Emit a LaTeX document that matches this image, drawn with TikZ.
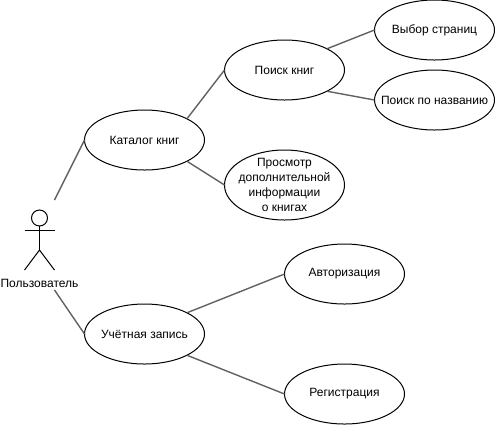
\documentclass[tikz,border=0pt]{standalone}
\usepackage{fontspec}
\setmainfont{Liberation Sans}
\usetikzlibrary{shapes.geometric}
\tikzset{
  uc/.style={draw=black,fill=white,ellipse,line width=0.75pt,inner sep=0pt,outer sep=0pt,minimum width=90pt,minimum height=45pt,
    label={[font=\fontsize{9}{11.25}\selectfont,align=center,inner sep=0pt]center:#1}},
  link/.style={draw=black!62,line width=1.05pt},
  stick/.style={draw=black,line width=0.75pt}
}
\begin{document}
\begin{tikzpicture}[x=0.75pt,y=-0.75pt]
\useasboundingbox (0,0) rectangle (495,426);
\node[uc={Каталог книг}] (cat) at (144.5,140) {};
\node[uc={Учётная запись}] (acc) at (144.5,334) {};
\node[uc={Поиск книг}] (search) at (284.5,70) {};
\node[uc={Просмотр\\дополнительной\\информации\\о книгах},minimum height=52.5pt] (info) at (284.5,185) {};
\node[uc={Выбор страниц}] (pages) at (434.5,30) {};
\node[uc={Поиск по названию}] (title) at (434.5,100) {};
\node[uc={Авторизация}] (auth) at (344.5,274) {};
\node[uc={Регистрация}] (reg) at (344.5,394) {};
% actor
\node[draw=black,fill=white,circle,line width=0.75pt,minimum size=12pt,inner sep=0pt,outer sep=0pt] (head) at (39.5,218) {};
\coordinate (hip) at (39.5,250);
\coordinate (armL) at (24.5,230);
\coordinate (armR) at (54.5,230);
\coordinate (legL) at (24.5,270);
\coordinate (legR) at (54.5,270);
\draw[stick] (head.south) -- (hip);
\draw[stick] (armL) -- (armR);
\draw[stick] (legL) -- (hip) -- (legR);
\node[font=\fontsize{9}{11.25}\selectfont,inner sep=0pt] (actor) at (39.5,283.5) {Пользователь};
\coordinate (actTop) at (54.5,200);
\coordinate (actBot) at (54.5,290);
% links
\draw[link] (actTop) -- (cat.west);
\draw[link] (actBot) -- (acc.west);
\draw[link] (cat.north east) -- (search.west);
\draw[link] (cat.south east) -- (info.west);
\draw[link] (search.north east) -- (pages.west);
\draw[link] (search.south east) -- (title.west);
\draw[link] (acc.north east) -- (auth.west);
\draw[link] (acc.south east) -- (reg.west);
\end{tikzpicture}
\end{document}
